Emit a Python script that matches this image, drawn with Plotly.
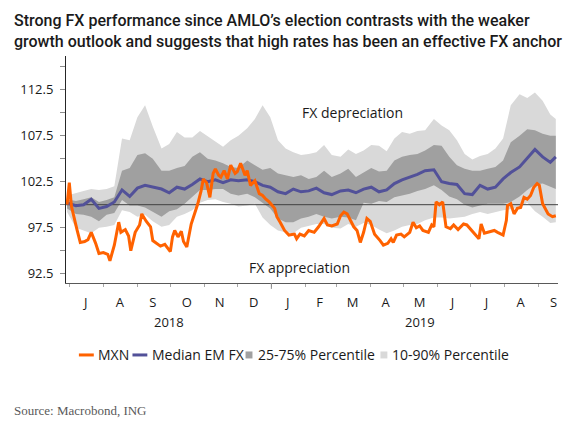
import plotly.graph_objects as go

# ---- data (index, election day = 100) ----
week_dates = ["2018-06-29", "2018-07-07", "2018-07-14", "2018-07-21", "2018-07-28", "2018-08-04",
              "2018-08-11", "2018-08-18", "2018-08-25", "2018-09-01", "2018-09-08", "2018-09-15",
              "2018-09-23", "2018-09-30", "2018-10-07", "2018-10-14", "2018-10-21", "2018-10-28",
              "2018-11-04", "2018-11-11", "2018-11-18", "2018-11-25", "2018-12-02", "2018-12-10",
              "2018-12-17", "2018-12-24", "2018-12-31", "2019-01-07", "2019-01-14", "2019-01-21",
              "2019-01-28", "2019-02-04", "2019-02-11", "2019-02-18", "2019-02-25", "2019-03-05",
              "2019-03-12", "2019-03-19", "2019-03-26", "2019-04-02", "2019-04-09", "2019-04-16",
              "2019-04-23", "2019-04-30", "2019-05-07", "2019-05-14", "2019-05-21", "2019-05-29",
              "2019-06-05", "2019-06-12", "2019-06-19", "2019-06-26", "2019-07-03", "2019-07-10",
              "2019-07-17", "2019-07-24", "2019-07-31", "2019-08-07", "2019-08-15", "2019-08-22",
              "2019-08-29", "2019-09-05", "2019-09-12", "2019-09-17"]

p90 = [101.0, 101.3, 101.5, 101.7, 101.6, 101.7, 102.0, 107.2, 107.0, 109.5, 110.8, 108.5,
       106.1, 106.6, 107.9, 107.3, 107.3, 108.0, 107.4, 106.8, 106.3, 107.0, 107.5, 108.3,
       109.3, 110.8, 109.5, 107.0, 106.1, 105.7, 105.4, 105.5, 105.7, 106.5, 105.4, 105.2,
       106.0, 105.5, 105.9, 106.5, 106.4, 105.8, 107.2, 107.9, 107.7, 108.0, 108.1, 109.3,
       108.6, 108.1, 107.0, 105.5, 104.9, 105.3, 105.5, 106.1, 107.2, 110.8, 112.0, 111.6,
       112.2, 111.3, 109.8, 109.3]
p75 = [100.6, 100.4, 100.6, 100.8, 100.3, 100.5, 100.8, 103.7, 104.0, 105.4, 105.6, 105.0,
       103.7, 103.7, 104.0, 104.2, 105.2, 105.7, 105.0, 104.8, 104.5, 104.1, 104.0, 104.8,
       104.3, 103.8, 104.0, 103.4, 103.2, 103.0, 103.2, 102.8, 103.0, 103.7, 103.0, 103.4,
       103.9, 103.0, 103.5, 104.0, 103.6, 103.7, 104.8, 105.2, 105.4, 105.5, 105.9, 106.5,
       106.4, 105.2, 104.3, 103.9, 103.7, 103.7, 103.9, 104.1, 104.8, 106.8, 107.5, 108.2,
       108.1, 107.7, 107.5, 107.5]
median_em = [100.2, 99.9, 100.0, 100.6, 99.6, 99.8, 100.3, 101.6, 100.9, 101.8, 102.1, 101.9,
             101.7, 101.3, 101.9, 101.7, 102.2, 102.8, 102.5, 102.7, 102.4, 102.7, 102.6, 102.7,
             102.5, 102.1, 101.9, 101.4, 101.2, 101.7, 101.4, 101.5, 101.8, 101.3, 101.1, 101.5,
             101.6, 101.3, 101.7, 101.9, 101.4, 101.6, 102.3, 102.7, 103.0, 103.3, 103.7, 103.8,
             102.5, 102.3, 102.2, 101.2, 101.1, 102.1, 101.7, 101.9, 102.8, 103.5, 104.1, 105.0,
             106.0, 105.2, 104.6, 105.2]
p25 = [99.6, 99.0, 98.9, 98.7, 98.2, 98.9, 99.1, 100.5, 99.9, 99.9, 99.7, 99.2,
       98.7, 99.3, 99.5, 100.1, 100.8, 101.6, 101.6, 101.7, 101.7, 101.2, 101.0, 101.2,
       100.8, 100.2, 99.6, 98.5, 98.1, 98.1, 98.5, 98.7, 99.0, 98.7, 98.5, 98.7,
       98.6, 98.3, 100.2, 100.1, 100.4, 100.3, 100.8, 101.0, 101.2, 101.5, 101.7, 102.1,
       101.6, 100.9, 100.6, 100.0, 99.7, 99.9, 100.1, 100.1, 100.1, 100.3, 100.9, 101.6,
       102.2, 102.3, 101.9, 101.7]
p10 = [99.2, 97.5, 97.2, 96.9, 97.5, 97.6, 97.8, 99.4, 99.2, 98.7, 98.9, 98.2,
       97.6, 97.8, 98.7, 99.0, 99.4, 100.2, 100.5, 100.6, 100.3, 100.1, 99.8, 99.9,
       100.1, 98.6, 97.8, 97.2, 97.0, 96.9, 97.5, 97.7, 97.9, 97.9, 97.5, 97.4,
       97.9, 97.6, 98.0, 97.8, 97.3, 96.9, 97.2, 97.6, 97.8, 97.9, 98.3, 98.6,
       98.6, 98.5, 98.6, 98.7, 99.0, 99.2, 99.0, 99.2, 99.4, 99.5, 99.7, 100.2,
       99.3, 98.7, 98.0, 98.1]

mxn_dates = ["2018-06-29", "2018-07-01", "2018-07-03", "2018-07-05", "2018-07-08", "2018-07-11",
             "2018-07-15", "2018-07-18", "2018-07-21", "2018-07-25", "2018-07-28", "2018-08-01",
             "2018-08-05", "2018-08-07", "2018-08-11", "2018-08-15", "2018-08-17", "2018-08-21",
             "2018-08-24", "2018-08-26", "2018-08-30", "2018-09-03", "2018-09-05", "2018-09-09",
             "2018-09-13", "2018-09-15", "2018-09-17", "2018-09-22", "2018-09-26", "2018-10-01",
             "2018-10-03", "2018-10-05", "2018-10-08", "2018-10-11", "2018-10-13", "2018-10-16",
             "2018-10-20", "2018-10-23", "2018-10-26", "2018-10-29", "2018-10-31", "2018-11-03",
             "2018-11-06", "2018-11-09", "2018-11-11", "2018-11-14", "2018-11-16", "2018-11-19",
             "2018-11-22", "2018-11-25", "2018-11-29", "2018-12-01", "2018-12-04", "2018-12-08",
             "2018-12-10", "2018-12-13", "2018-12-17", "2018-12-21", "2018-12-24", "2018-12-27",
             "2018-12-30", "2019-01-04", "2019-01-06", "2019-01-09", "2019-01-13", "2019-01-17",
             "2019-01-22", "2019-01-24", "2019-01-27", "2019-01-31", "2019-02-04", "2019-02-09",
             "2019-02-13", "2019-02-18", "2019-02-21", "2019-02-25", "2019-03-02", "2019-03-05",
             "2019-03-08", "2019-03-11", "2019-03-14", "2019-03-17", "2019-03-20", "2019-03-23",
             "2019-03-26", "2019-03-29", "2019-04-01", "2019-04-05", "2019-04-10", "2019-04-13",
             "2019-04-17", "2019-04-20", "2019-04-22", "2019-04-25", "2019-04-29", "2019-05-02",
             "2019-05-07", "2019-05-10", "2019-05-13", "2019-05-16", "2019-05-19", "2019-05-24",
             "2019-05-27", "2019-05-29", "2019-05-31", "2019-06-03", "2019-06-06", "2019-06-09",
             "2019-06-13", "2019-06-16", "2019-06-20", "2019-06-25", "2019-06-28", "2019-07-02",
             "2019-07-06", "2019-07-09", "2019-07-11", "2019-07-14", "2019-07-18", "2019-07-23",
             "2019-07-26", "2019-07-31", "2019-08-03", "2019-08-04", "2019-08-07", "2019-08-10",
             "2019-08-13", "2019-08-16", "2019-08-19", "2019-08-22", "2019-08-25", "2019-08-28",
             "2019-08-31", "2019-09-02", "2019-09-05", "2019-09-08", "2019-09-10", "2019-09-14",
             "2019-09-17"]
mxn = [100.0, 102.4, 99.8, 98.7, 97.3, 95.9, 96.0, 96.2, 97.0, 95.8, 94.7, 94.8,
       94.6, 93.9, 95.6, 98.1, 97.0, 97.3, 96.6, 95.0, 97.0, 97.8, 99.0, 98.2,
       97.6, 96.1, 95.9, 95.5, 95.7, 94.9, 96.5, 97.2, 96.5, 97.1, 96.0, 95.4,
       97.9, 99.0, 100.1, 101.5, 102.8, 102.4, 100.8, 103.4, 103.9, 103.2, 103.0, 103.7,
       102.8, 104.3, 103.4, 103.6, 104.5, 103.2, 103.7, 102.1, 102.6, 101.2, 101.0, 100.6,
       100.3, 99.6, 98.7, 98.1, 97.2, 96.7, 96.8, 96.3, 96.8, 96.6, 97.2, 97.0,
       97.6, 98.5, 97.8, 97.7, 97.9, 98.8, 99.2, 99.0, 98.3, 97.6, 97.2, 95.9,
       97.0, 98.5, 98.2, 96.8, 96.1, 95.6, 95.8, 96.3, 95.9, 96.7, 96.8, 96.5,
       97.0, 98.1, 97.5, 97.7, 97.2, 97.0, 97.8, 97.6, 100.3, 100.0, 100.3, 97.6,
       97.4, 97.8, 97.3, 97.9, 97.8, 97.2, 96.7, 96.3, 97.9, 96.9, 97.0, 97.2,
       97.0, 96.7, 98.3, 99.9, 100.1, 99.0, 99.6, 99.7, 100.8, 100.6, 101.0, 101.9,
       102.3, 102.1, 100.1, 99.4, 99.0, 98.7, 98.8]

BASE = 100
X_START = "2018-06-28"
X_END = "2019-09-19"

month_starts = ["2018-07-01", "2018-08-01", "2018-09-01", "2018-10-01", "2018-11-01", "2018-12-01",
                "2019-01-01", "2019-02-01", "2019-03-01", "2019-04-01", "2019-05-01", "2019-06-01",
                "2019-07-01", "2019-08-01", "2019-09-01"]
year_start = "2019-01-01"
month_mids = ["2018-07-16", "2018-08-16", "2018-09-15", "2018-10-16", "2018-11-15", "2018-12-16",
              "2019-01-16", "2019-02-14", "2019-03-16", "2019-04-15", "2019-05-16", "2019-06-15",
              "2019-07-16", "2019-08-16", "2019-09-15"]
month_letters = ["J", "A", "S", "O", "N", "D", "J", "F", "M", "A", "M", "J", "J", "A", "S"]
years = ["2018", "2019"]
year_mids = ["2018-09-30", "2019-05-16"]
y_ticks = [92.5, 95, 97.5, 100, 102.5, 105, 107.5, 110, 112.5, 115]
y_labels = ["92.5", "", "97.5", "", "102.5", "", "107.5", "", "112.5", ""]

ORANGE = "#ff6200"
BLUE = "#525199"
DARK = "#a0a0a0"
LIGHT = "#d9d9d9"
FONT = "Open Sans"
TXT = "#1a1a1a"

fig = go.Figure()
fig.add_trace(go.Scatter(x=week_dates, y=p10, mode="lines", line=dict(width=0),
                         hoverinfo="skip", showlegend=False))
fig.add_trace(go.Scatter(x=week_dates, y=p90, mode="lines", line=dict(width=0),
                         fill="tonexty", fillcolor=LIGHT, name="10-90% Percentile", showlegend=False))
fig.add_trace(go.Scatter(x=week_dates, y=p25, mode="lines", line=dict(width=0),
                         hoverinfo="skip", showlegend=False))
fig.add_trace(go.Scatter(x=week_dates, y=p75, mode="lines", line=dict(width=0),
                         fill="tonexty", fillcolor=DARK, name="25-75% Percentile", showlegend=False))
fig.add_trace(go.Scatter(x=[X_START, X_END], y=[BASE, BASE], mode="lines",
                         line=dict(color="#404040", width=1), hoverinfo="skip", showlegend=False))
fig.add_trace(go.Scatter(x=week_dates, y=median_em, mode="lines", name="Median EM FX",
                         line=dict(color=BLUE, width=3), showlegend=False))
fig.add_trace(go.Scatter(x=mxn_dates, y=mxn, mode="lines", name="MXN",
                         line=dict(color=ORANGE, width=3), showlegend=False))

# the page body adds an 8px offset, so the figure is 8px smaller and margins shifted
fig.update_layout(
    width=569, height=413,
    margin=dict(l=54, r=19, t=48, b=138),
    paper_bgcolor="white", plot_bgcolor="white",
    font=dict(family=FONT, size=13, color=TXT),
    xaxis=dict(
        type="date", range=[X_START, X_END], showgrid=False, zeroline=False,
        showline=True, linecolor="#595959", linewidth=1,
        tickmode="array", tickvals=month_mids, ticktext=month_letters,
        ticks="outside", ticklen=5, tickcolor="rgba(0,0,0,0)", ticklabelstandoff=2,
        tickfont=dict(family=FONT, size=13, color=TXT),
        minor=dict(tickmode="array", tickvals=month_starts, ticks="outside",
                   ticklen=3, tickcolor="#a6a6a6", showgrid=False),
    ),
    yaxis=dict(
        range=[91.49, 116.16], showgrid=False, zeroline=False,
        showline=True, linecolor="#262626", linewidth=1,
        tickmode="array", tickvals=y_ticks, ticktext=y_labels,
        ticks="outside", ticklen=5, tickcolor="#8c8c8c",
        ticklabelstandoff=4,
        tickfont=dict(family=FONT, size=13, color=TXT),
    ),
)

# longer tick at the year boundary
fig.add_shape(type="line", xref="x", yref="paper", x0=year_start, x1=year_start,
              y0=0, y1=-0.026, line=dict(color="#8c8c8c", width=1))

# title
fig.add_annotation(
    x=-0.1089, y=1.205, xref="paper", yref="paper", xanchor="left", yanchor="top",
    align="left", showarrow=False,
    text="Strong FX performance since AMLO’s election contrasts with the weaker<br>"
         "growth outlook and suggests that high rates has been an effective FX anchor",
    font=dict(family="Roboto", size=16, weight=500, color=TXT),
)

# region labels
fig.add_annotation(x="2019-03-16", y=110.0, xref="x", yref="y", text="FX depreciation",
                   showarrow=False, font=dict(family=FONT, size=14, color=TXT))
fig.add_annotation(x="2019-01-27", y=93.2, xref="x", yref="y", text="FX appreciation",
                   showarrow=False, font=dict(family=FONT, size=14, color=TXT))

# year labels
for yr_date, yr in zip(year_mids, years):
    fig.add_annotation(x=yr_date, y=-0.17, xref="x", yref="paper", text=yr, showarrow=False,
                       yanchor="middle", font=dict(family=FONT, size=13, color=TXT))

# legend (drawn by hand to keep the compact ING layout)
LEG_Y = -0.317
legend_lines = [(0.0262, 0.0565, ORANGE, 0.0605, "MXN"),
                (0.1351, 0.1653, BLUE, 0.1714, "Median EM FX")]
for x0, x1, col, tx, label in legend_lines:
    fig.add_shape(type="line", xref="paper", yref="paper", x0=x0, x1=x1, y0=LEG_Y, y1=LEG_Y,
                  line=dict(color=col, width=3))
    fig.add_annotation(x=tx, y=LEG_Y, xref="paper", yref="paper", text=label, showarrow=False,
                       xanchor="left", yanchor="middle",
                       font=dict(family=FONT, size=14, color=TXT))
legend_boxes = [(0.3649, 0.3790, DARK, 0.3871, "25-75% Percentile"),
                (0.6391, 0.6532, LIGHT, 0.6593, "10-90% Percentile")]
for x0, x1, col, tx, label in legend_boxes:
    fig.add_shape(type="rect", xref="paper", yref="paper", x0=x0, x1=x1,
                  y0=LEG_Y - 0.0154, y1=LEG_Y + 0.0154, fillcolor=col, line=dict(width=0))
    fig.add_annotation(x=tx, y=LEG_Y, xref="paper", yref="paper", text=label, showarrow=False,
                       xanchor="left", yanchor="middle",
                       font=dict(family=FONT, size=14, color=TXT))

fig.add_annotation(x=-0.1089, y=-0.56, xref="paper", yref="paper", text="Source: Macrobond, ING",
                   showarrow=False, xanchor="left", yanchor="middle",
                   font=dict(family="Liberation Serif", size=13, color="#595959"))

fig.write_html("out.html")
